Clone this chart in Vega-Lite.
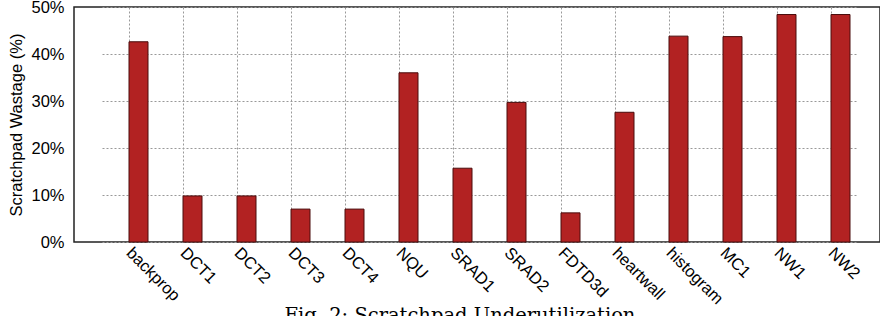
{
  "$schema": "https://vega.github.io/schema/vega-lite/v6.json",
  "width": 806,
  "height": 235,
  "autosize": {"type": "none"},
  "padding": {"left": 74, "top": 7, "right": 0, "bottom": 74},
  "background": "white",
  "title": {
    "text": "Fig. 2: Scratchpad Underutilization",
    "orient": "bottom",
    "anchor": "middle",
    "font": "DejaVu Serif",
    "fontSize": 19.5,
    "fontWeight": "normal",
    "color": "#000",
    "dx": -17,
    "offset": 0
  },
  "config": {
    "view": {"stroke": "#222", "strokeWidth": 1.5},
    "axis": {
      "labelFont": "Liberation Sans",
      "titleFont": "Liberation Sans",
      "labelColor": "#000",
      "titleColor": "#000",
      "domain": false,
      "gridColor": "#999",
      "gridDash": [2, 2],
      "gridWidth": 1,
      "gridOpacity": 1
    }
  },
  "data": {
    "values": [
      {"benchmark": "backprop", "wastage": 42.6},
      {"benchmark": "DCT1", "wastage": 9.8},
      {"benchmark": "DCT2", "wastage": 9.8},
      {"benchmark": "DCT3", "wastage": 7.0},
      {"benchmark": "DCT4", "wastage": 7.0},
      {"benchmark": "NQU", "wastage": 36.0},
      {"benchmark": "SRAD1", "wastage": 15.7},
      {"benchmark": "SRAD2", "wastage": 29.7},
      {"benchmark": "FDTD3d", "wastage": 6.2},
      {"benchmark": "heartwall", "wastage": 27.6},
      {"benchmark": "histogram", "wastage": 43.8},
      {"benchmark": "MC1", "wastage": 43.7},
      {"benchmark": "NW1", "wastage": 48.4},
      {"benchmark": "NW2", "wastage": 48.4}
    ]
  },
  "mark": {
    "type": "bar",
    "width": 19,
    "xOffset": 9.5,
    "fill": "#b22222",
    "stroke": "#4a0c0c",
    "strokeWidth": 1
  },
  "encoding": {
    "x": {
      "field": "benchmark",
      "type": "nominal",
      "sort": null,
      "scale": {"range": [28, 784], "paddingInner": 0, "paddingOuter": 0},
      "axis": {
        "title": null,
        "grid": true,
        "ticks": false,
        "labelAngle": 45,
        "labelAlign": "left",
        "labelBaseline": "middle",
        "labelFontSize": 16.5,
        "labelPadding": 8
      }
    },
    "y": {
      "field": "wastage",
      "type": "quantitative",
      "scale": {"domain": [0, 50], "nice": false},
      "axis": {
        "title": "Scratchpad Wastage (%)",
        "titleFontSize": 16.5,
        "titleFontWeight": "normal",
        "titlePadding": 6,
        "values": [0, 10, 20, 30, 40, 50],
        "labelExpr": "datum.value + '%'",
        "labelFontSize": 16.5,
        "labelPadding": 10,
        "ticks": false,
        "grid": true
      }
    }
  }
}
